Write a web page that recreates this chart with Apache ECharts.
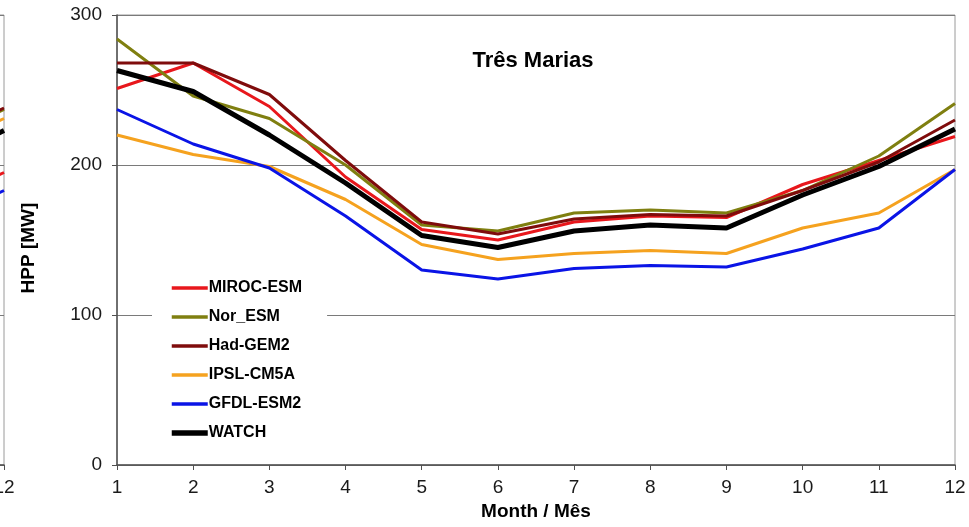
<!DOCTYPE html>
<html>
<head>
<meta charset="utf-8">
<script src="https://cdn.jsdelivr.net/npm/echarts@6/dist/echarts.min.js"></script>
<style>
  html, body { margin: 0; padding: 0; background: #fff; }
  #chart { width: 969px; height: 527px; }
</style>
</head>
<body>
<div id="chart"></div>
<script>
// Monthly hydropower production (MW) at Três Marias, per climate model
const months = [1, 2, 3, 4, 5, 6, 7, 8, 9, 10, 11, 12];
const yTicks = [0, 100, 200, 300];

const seriesNames = ['MIROC-ESM', 'Nor_ESM', 'Had-GEM2', 'IPSL-CM5A', 'GFDL-ESM2', 'WATCH'];
const mirocEsm = [251, 268, 239, 192, 157, 150, 162, 166, 165, 187, 203, 219];
const norEsm   = [284, 246, 231, 200, 160, 156, 168, 170, 168, 183, 206, 241];
const hadGem2  = [268, 268, 247, 203, 162, 154, 164, 167, 166, 183, 202, 230];
const ipslCm5a = [220, 207, 199, 177, 147, 137, 141, 143, 141, 158, 168, 197];
const gfdlEsm2 = [237, 214, 198, 166, 130, 124, 131, 133, 132, 144, 158, 197];
const watch    = [263, 249, 220, 188, 153, 145, 156, 160, 158, 180, 199, 224];

// Neighbouring panel (only its last months show at the left edge)
const prevMonths = [11, 12];
const prevMiroc = [171, 195];
const prevNor   = [213, 237];
const prevHad   = [214, 238];
const prevIpsl  = [207, 231];
const prevGfdl  = [159, 183];
const prevWatch = [199, 223];

const colors = ['#e8171c', '#7f7f10', '#7f0c0c', '#f5a21f', '#0a14e6', '#000000'];
const widths = [3, 3, 3, 3, 3, 5];
const legendWidths = [3.5, 3.5, 3.5, 3.5, 3.5, 5.5];

const mainValues = [mirocEsm, norEsm, hadGem2, ipslCm5a, gfdlEsm2, watch];
const prevValues = [prevMiroc, prevNor, prevHad, prevIpsl, prevGfdl, prevWatch];

const font = 'Arial, "Liberation Sans", Helvetica, sans-serif';

const series = [];
mainValues.forEach((vals, i) => {
  series.push({
    name: seriesNames[i],
    type: 'line',
    xAxisIndex: 0,
    yAxisIndex: 0,
    data: months.map((m, k) => [m, vals[k]]),
    symbol: 'none',
    lineStyle: { color: colors[i], width: widths[i] },
    itemStyle: { color: colors[i] },
    z: 3 + i
  });
});
prevValues.forEach((vals, i) => {
  series.push({
    name: seriesNames[i],
    type: 'line',
    xAxisIndex: 1,
    yAxisIndex: 1,
    data: prevMonths.map((m, k) => [m, vals[k]]),
    symbol: 'none',
    lineStyle: { color: colors[i], width: widths[i] },
    itemStyle: { color: colors[i] },
    z: 3 + i
  });
});

const chart = echarts.init(document.getElementById('chart'), null, { renderer: 'canvas' });
chart.setOption({
  animation: false,
  backgroundColor: '#ffffff',
  title: {
    text: 'Três Marias',
    left: 533,
    top: 50,
    padding: 0,
    textAlign: 'center',
    textStyle: { fontFamily: font, fontSize: 22, fontWeight: 'bold', color: '#000' }
  },
  legend: {
    orient: 'vertical',
    left: 152,
    top: 270,
    padding: [10, 25, 10, 17],
    backgroundColor: '#ffffff',
    itemWidth: 36,
    itemHeight: 14,
    itemGap: 13,
    data: seriesNames.map((n, i) => ({ name: n, lineStyle: { width: legendWidths[i] } })),
    itemStyle: { opacity: 0 },
    textStyle: { fontFamily: font, fontSize: 16, fontWeight: 'bold', color: '#000', padding: [0, 0, 0, -4] },
    z: 10
  },
  grid: [
    {
      left: 117, right: 14, top: 15, bottom: 62,
      outerBoundsMode: 'none',
      show: true, borderColor: '#9a9a9a', borderWidth: 1, backgroundColor: 'transparent'
    },
    {
      left: -833, width: 837, top: 15, bottom: 62,
      outerBoundsMode: 'none',
      show: true, borderColor: '#9a9a9a', borderWidth: 1, backgroundColor: 'transparent'
    }
  ],
  xAxis: [
    {
      gridIndex: 0,
      type: 'value',
      min: 1, max: 12, interval: 1,
      name: 'Month / Mês',
      nameLocation: 'middle',
      nameGap: 35,
      nameTextStyle: { fontFamily: font, fontSize: 19, fontWeight: 'bold', color: '#000' },
      axisLine: { lineStyle: { color: '#505050', width: 1.5 } },
      axisTick: { show: true, inside: false, length: 5, lineStyle: { color: '#505050' } },
      axisLabel: { margin: 13, fontFamily: font, fontSize: 19, color: '#1a1a1a' },
      splitLine: { show: false }
    },
    {
      gridIndex: 1,
      type: 'value',
      min: 1, max: 12, interval: 1,
      axisLine: { lineStyle: { color: '#505050', width: 1.5 } },
      axisTick: { show: true, inside: false, length: 5, lineStyle: { color: '#505050' } },
      axisLabel: { margin: 13, fontFamily: font, fontSize: 19, color: '#1a1a1a' },
      splitLine: { show: false }
    }
  ],
  yAxis: [
    {
      gridIndex: 0,
      type: 'value',
      min: yTicks[0], max: yTicks[yTicks.length - 1], interval: 100,
      name: 'HPP [MW]',
      nameLocation: 'middle',
      nameRotate: 90,
      nameGap: 79,
      nameTextStyle: { fontFamily: font, fontSize: 19, fontWeight: 'bold', color: '#000', padding: [0, 16, 0, 0] },
      axisLine: { show: true, lineStyle: { color: '#505050', width: 1.5 } },
      axisTick: { show: true, inside: false, length: 5, lineStyle: { color: '#505050' } },
      axisLabel: { margin: 15, fontFamily: font, fontSize: 19, color: '#1a1a1a' },
      splitLine: { show: true, lineStyle: { color: '#7a7a7a', width: 1 } }
    },
    {
      gridIndex: 1,
      type: 'value',
      min: 0, max: 300, interval: 100,
      axisLine: { show: true, lineStyle: { color: '#505050', width: 1.5 } },
      axisTick: { show: false },
      axisLabel: { show: false },
      splitLine: { show: true, lineStyle: { color: '#7a7a7a', width: 1 } }
    }
  ],
  series: series
});
</script>
</body>
</html>
